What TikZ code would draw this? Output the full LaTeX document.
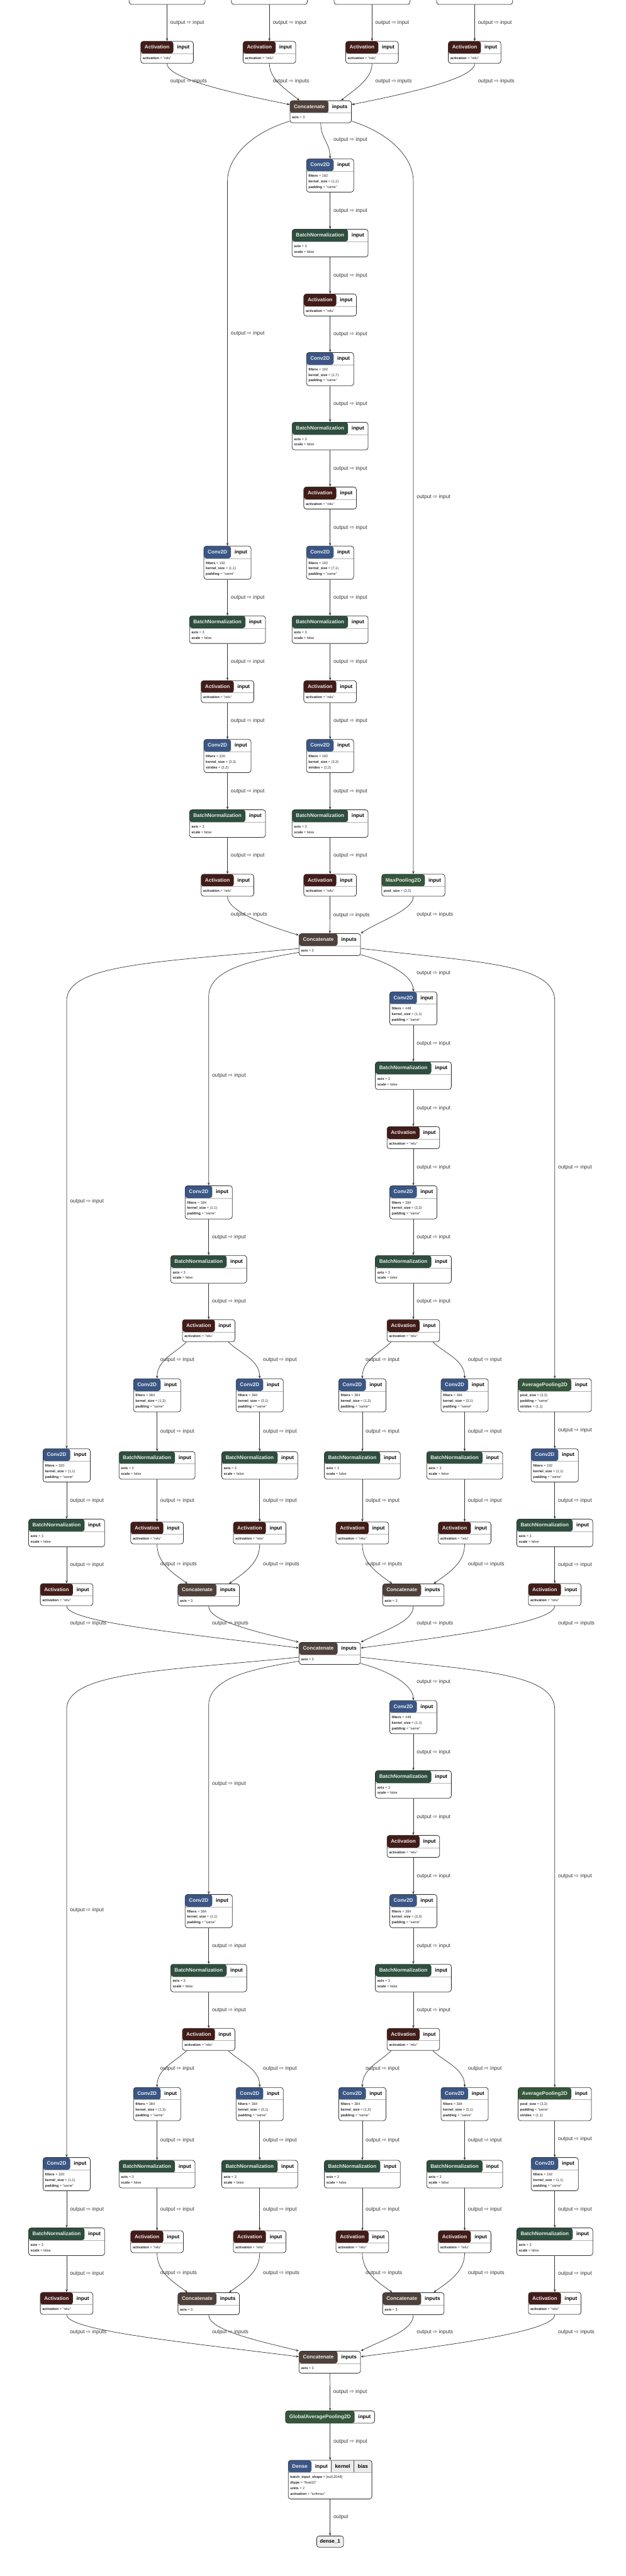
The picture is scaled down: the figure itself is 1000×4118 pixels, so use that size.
\documentclass[tikz,border=0pt]{standalone}
\usepackage{fontspec}
\setmainfont{Liberation Sans}
\newfontfamily\arrowfont{DejaVu Sans}
\usetikzlibrary{arrows.meta, positioning, fit, backgrounds}

\definecolor{convc}{RGB}{58,86,132}
\definecolor{bnc}{RGB}{46,78,62}
\definecolor{actc}{RGB}{66,28,24}
\definecolor{catc}{RGB}{78,64,58}
\definecolor{poolc}{RGB}{52,86,58}

\tikzset{
  hdrrow/.style={anchor=north, inner sep=0pt, column sep=0pt, ampersand replacement=\&},
  hcell/.style={inner xsep=6pt, inner ysep=0pt, minimum height=19pt, text height=6.2pt, text depth=1.8pt,
                font=\fontsize{8.2}{9}\selectfont\bfseries},
  attrs/.style={anchor=north west, inner xsep=3pt, inner ysep=5pt, align=left, text=black!85,
                font=\fontsize{5.6}{8.9}\selectfont},
  lbox/.style={draw=black!80, line width=0.8pt, fill=white, rounded corners=4pt, inner sep=0pt},
  hdrline/.style={black!30, line width=0.5pt},
  outbox/.style={draw=black!80, line width=0.8pt, fill=black!6, rounded corners=4pt, inner xsep=5pt,
                 inner ysep=0pt, minimum height=18pt, text height=6.2pt, text depth=1.8pt,
                 font=\fontsize{8.2}{9}\selectfont\bfseries},
  conn/.style={-{Stealth[length=4.5pt,width=3.6pt]}, line width=0.7pt, black!80},
  lbl/.style={anchor=west, xshift=5pt, inner sep=0pt, text=black!80, font=\fontsize{8.5}{9}\selectfont}
}

\newcommand{\io}[1][input]{output {\arrowfont ⇨} #1}
\newcommand{\attr}[2]{\vphantom{(}\textbf{#1} = #2}

% name, centre, half height, colour, type, port, attributes
\newcommand{\layer}[7]{%
  \matrix (#1-h) [hdrrow, yshift=#3pt] at (#2) {\node[hcell, text=#4!10!white] (#1-t) {#5}; \& \node[hcell, text=black] (#1-p) {#6}; \\};
  \node[attrs] (#1-b) at (#1-t.south west) {#7};
  \begin{scope}[on background layer]
    \node[lbox, fit=(#1-h)(#1-b), path picture={
      \fill[#4] (path picture bounding box.north west) rectangle (#1-t.south east);
      \draw[hdrline] (#1-t.south west) -- (#1-t.south -| path picture bounding box.east);}] (#1) {};
  \end{scope}}
\newcommand{\headonly}[6]{%
  \matrix (#1-h) [hdrrow, yshift=#3pt] at (#2) {\node[hcell, text=#4!10!white] (#1-t) {#5}; \& \node[hcell, text=black] (#1-p) {#6}; \\};
  \begin{scope}[on background layer]
    \node[lbox, fit=(#1-h), path picture={
      \fill[#4] (path picture bounding box.north west) rectangle (#1-t.south east);}] (#1) {};
  \end{scope}}

\newcommand{\conv}[5][\attr{padding}{"same"}]{\layer{#2}{#3}{26}{convc}{Conv2D}{input}{\attr{filters}{#4}\\\attr{kernel\_size}{#5}\\#1}}
\newcommand{\bnorm}[2]{\layer{#1}{#2}{21.5}{bnc}{BatchNormalization}{input}{\attr{axis}{3}\\\attr{scale}{false}}}
\newcommand{\relu}[2]{\layer{#1}{#2}{17}{actc}{Activation}{input}{\attr{activation}{"relu"}}}
\newcommand{\concat}[2]{\layer{#1}{#2}{16.5}{catc}{Concatenate}{inputs}{\attr{axis}{3}}}
\newcommand{\avgpool}[2]{\layer{#1}{#2}{26}{poolc}{AveragePooling2D}{input}{\attr{pool\_size}{(3,3)}\\\attr{padding}{"same"}\\\attr{strides}{(1,1)}}}

% prefix, incoming node, its y
\newcommand{\mixed}[3]{%
\begin{scope}[shift={(0,#3)}]
  \conv{#1c5}{660.5,102.5}{448}{(1,1)}
  \bnorm{#1b5}{660.5,210}
  \relu{#1a5}{660.5,309}
  \conv{#1c2}{333.5,412.5}{384}{(1,1)}
  \conv{#1c6}{660.5,412.5}{384}{(3,3)}
  \bnorm{#1b2}{333.5,519.5}
  \bnorm{#1b6}{660.5,519.5}
  \relu{#1a2}{333.5,617.5}
  \relu{#1a6}{660.5,617.5}
  \conv{#1c3}{251,721}{384}{(1,3)}
  \conv{#1c4}{415,721}{384}{(3,1)}
  \conv{#1c7}{579,721}{384}{(1,3)}
  \conv{#1c8}{742.5,721}{384}{(3,1)}
  \avgpool{#1p}{886.5,721}
  \conv{#1c1}{106.5,833}{320}{(1,1)}
  \bnorm{#1b3}{251,833}
  \bnorm{#1b4}{415,833}
  \bnorm{#1b7}{579,833}
  \bnorm{#1b8}{742.5,833}
  \conv{#1c9}{886.5,833}{192}{(1,1)}
  \bnorm{#1b1}{106.5,941}
  \relu{#1a3}{251,941}
  \relu{#1a4}{415,941}
  \relu{#1a7}{579,941}
  \relu{#1a8}{742.5,941}
  \bnorm{#1b9}{886.5,941}
  \relu{#1a1}{106.5,1039.5}
  \concat{#1k1}{333.5,1039.5}
  \concat{#1k2}{660.5,1039.5}
  \relu{#1a9}{886.5,1039.5}
  \concat{#1k}{527,1133}

  \foreach \u/\v in {c5/b5, b5/a5, a5/c6, c6/b6, b6/a6, c2/b2, b2/a2, c3/b3, b3/a3, c4/b4, b4/a4,
                     c7/b7, b7/a7, c8/b8, b8/a8, p/c9, c9/b9, b9/a9, c1/b1, b1/a1}
    \draw[conn] (#1\u) -- node[lbl] {\io} (#1\v);

  \draw[conn] (#2.-18) .. controls +(45,12) and +(0,-25) .. (#1c5.north) node[lbl, at={(660.5,47)}] {\io};
  \draw[conn] (#2.194) .. controls +(-70,12) and +(0,-45) .. (#1c2.north |- 0,84) -- (#1c2.north) node[lbl, at={(333.5,210)}] {\io};
  \draw[conn] (#2.187) .. controls +(-220,22) and +(0,-60) .. (#1c1.north |- 0,91) -- (#1c1.north) node[lbl, at={(106.5,412)}] {\io};
  \draw[conn] (#2.-7) .. controls +(185,22) and +(0,-60) .. (#1p.north |- 0,91) -- (#1p.north) node[lbl, at={(886.5,357)}] {\io};

  \draw[conn] (#1a2.207) .. controls +(-18,18) and +(0,-30) .. (#1c3.north) node[lbl, at={(251,664.6)}] {\io};
  \draw[conn] (#1a2.-30) .. controls +(18,18) and +(0,-30) .. (#1c4.north) node[lbl, at={(415,664.6)}] {\io};
  \draw[conn] (#1a6.207) .. controls +(-18,18) and +(0,-30) .. (#1c7.north) node[lbl, at={(579,664.6)}] {\io};
  \draw[conn] (#1a6.-30) .. controls +(18,18) and +(0,-30) .. (#1c8.north) node[lbl, at={(742.5,664.6)}] {\io};

  \draw[conn] (#1a3.south) .. controls +(0,30) and +(-25,-18) .. (#1k1.152) node[lbl, at={(251,992)}] {\io[inputs]};
  \draw[conn] (#1a4.south) .. controls +(0,30) and +(25,-18) .. (#1k1.29) node[lbl, at={(415,992)}] {\io[inputs]};
  \draw[conn] (#1a7.south) .. controls +(0,30) and +(-25,-18) .. (#1k2.152) node[lbl, at={(579,992)}] {\io[inputs]};
  \draw[conn] (#1a8.south) .. controls +(0,30) and +(25,-18) .. (#1k2.29) node[lbl, at={(742.5,992)}] {\io[inputs]};

  \draw[conn] (#1a1.south) .. controls +(0,25) and +(-200,-25) .. (#1k.170) node[lbl, at={(106.5,1086.5)}] {\io[inputs]};
  \draw[conn] (#1k1.south) .. controls +(0,25) and +(-60,-15) .. (#1k.160) node[lbl, at={(333.5,1086.5)}] {\io[inputs]};
  \draw[conn] (#1k2.south) .. controls +(0,25) and +(40,-20) .. (#1k.20) node[lbl, at={(660.5,1086.5)}] {\io[inputs]};
  \draw[conn] (#1a9.south) .. controls +(0,25) and +(170,-22) .. (#1k.10) node[lbl, at={(886.5,1086.5)}] {\io[inputs]};
\end{scope}}

\begin{document}
\begin{tikzpicture}[x=1pt, y=-1pt]
  \useasboundingbox (0,0) rectangle (1000,4118);

  \foreach \s/\x in {a/267, b/430.5, c/594.5, d/758.5} {
    \bnorm{bn0\s}{\x,-15.5}
    \relu{act0\s}{\x,83}
    \draw[conn] (bn0\s) -- node[lbl] {\io} (act0\s);
  }
  \concat{cat0}{512.5,177.5}
  \draw[conn] (act0a.south) .. controls +(0,25) and +(-80,-16) .. (cat0.167) node[lbl, at={(267,130)}] {\io[inputs]};
  \draw[conn] (act0b.south) .. controls +(0,25) and +(-22,-18) .. (cat0.152) node[lbl, at={(430.5,130)}] {\io[inputs]};
  \draw[conn] (act0c.south) .. controls +(0,25) and +(22,-18) .. (cat0.29) node[lbl, at={(594.5,130)}] {\io[inputs]};
  \draw[conn] (act0d.south) .. controls +(0,25) and +(80,-16) .. (cat0.13) node[lbl, at={(758.5,130)}] {\io[inputs]};

  \conv{ra1}{527.5,280}{192}{(1,1)}
  \bnorm{ra2}{527.5,388}
  \relu{ra3}{527.5,487}
  \conv{ra4}{527.5,589.5}{192}{(1,7)}
  \bnorm{ra5}{527.5,696.5}
  \relu{ra6}{527.5,795.5}
  \conv{ra7}{527.5,899}{192}{(7,1)}
  \bnorm{ra8}{527.5,1006}
  \relu{ra9}{527.5,1105}
  \conv[\attr{strides}{(2,2)}]{ra10}{527.5,1208}{192}{(3,3)}
  \bnorm{ra11}{527.5,1316}
  \relu{ra12}{527.5,1414.5}
  \conv{rb1}{363.5,899}{192}{(1,1)}
  \bnorm{rb2}{363.5,1006}
  \relu{rb3}{363.5,1105}
  \conv[\attr{strides}{(2,2)}]{rb4}{363.5,1208}{320}{(3,3)}
  \bnorm{rb5}{363.5,1316}
  \relu{rb6}{363.5,1414.5}
  \layer{maxp}{660.5,1414.5}{17}{poolc}{MaxPooling2D}{input}{\attr{pool\_size}{(3,3)}}
  \concat{cat1}{527,1509}

  \foreach \u/\v in {ra1/ra2, ra2/ra3, ra3/ra4, ra4/ra5, ra5/ra6, ra6/ra7, ra7/ra8, ra8/ra9, ra9/ra10,
                     ra10/ra11, ra11/ra12, rb1/rb2, rb2/rb3, rb3/rb4, rb4/rb5, rb5/rb6}
    \draw[conn] (\u) -- node[lbl] {\io} (\v);
  \draw[conn] (cat0.south) .. controls +(0,25) and +(0,-25) .. (ra1.north) node[lbl, at={(527.5,224)}] {\io};
  \draw[conn] (cat0.197) .. controls +(-60,18) and +(0,-40) .. (rb1.north |- 0,290) -- (rb1.north) node[lbl, at={(363.5,533)}] {\io};
  \draw[conn] (cat0.-17) .. controls +(58,18) and +(0,-40) .. (maxp.north |- 0,290) -- (maxp.north) node[lbl, at={(660.5,795)}] {\io};
  \draw[conn] (rb6.south) .. controls +(0,22) and +(-60,-18) .. (cat1.163) node[lbl, at={(363.5,1462)}] {\io[inputs]};
  \draw[conn] (ra12) -- node[lbl] {\io[inputs]} (cat1);
  \draw[conn] (maxp.south) .. controls +(0,22) and +(30,-20) .. (cat1.20) node[lbl, at={(660.5,1462)}] {\io[inputs]};

  \mixed{ma}{cat1}{1509}
  \mixed{mb}{mak}{2642}

  \headonly{gap}{527.5,3863}{9}{poolc}{GlobalAveragePooling2D}{input}
  \matrix (dense-h) [hdrrow, yshift=30pt] at (527.5,3963) {\node[hcell, text=convc!10!white] (dense-t) {Dense}; \& \node[hcell, text=black] (dense-p) {input}; \& \node[hcell, text=black] (dense-k) {kernel}; \& \node[hcell, text=black] (dense-w) {bias}; \\};
  \node[attrs] (dense-b) at (dense-t.south west) {\attr{batch\_input\_shape}{[null,2048]}\\\attr{dtype}{"float32"}\\\attr{units}{2}\\\attr{activation}{"softmax"}};
  \begin{scope}[on background layer]
    \node[lbox, fit=(dense-h)(dense-b), path picture={
      \fill[convc] (path picture bounding box.north west) rectangle (dense-t.south east);
      \fill[black!8] (dense-k.north west) rectangle (dense-w.south east);
      \draw[black!70] (dense-k.north west) -- (dense-k.south west) (dense-w.north west) -- (dense-w.south west);
      \draw[hdrline] (dense-t.south west) -- (dense-w.south east);}] (dense) {};
  \end{scope}
  \node[outbox] (out) at (527.5,4063) {dense\_1};

  \draw[conn] (mbk) -- node[lbl] {\io} (gap);
  \draw[conn] (gap) -- node[lbl] {\io} (dense);
  \draw[conn] (dense) -- node[lbl] {output} (out);
\end{tikzpicture}
\end{document}
